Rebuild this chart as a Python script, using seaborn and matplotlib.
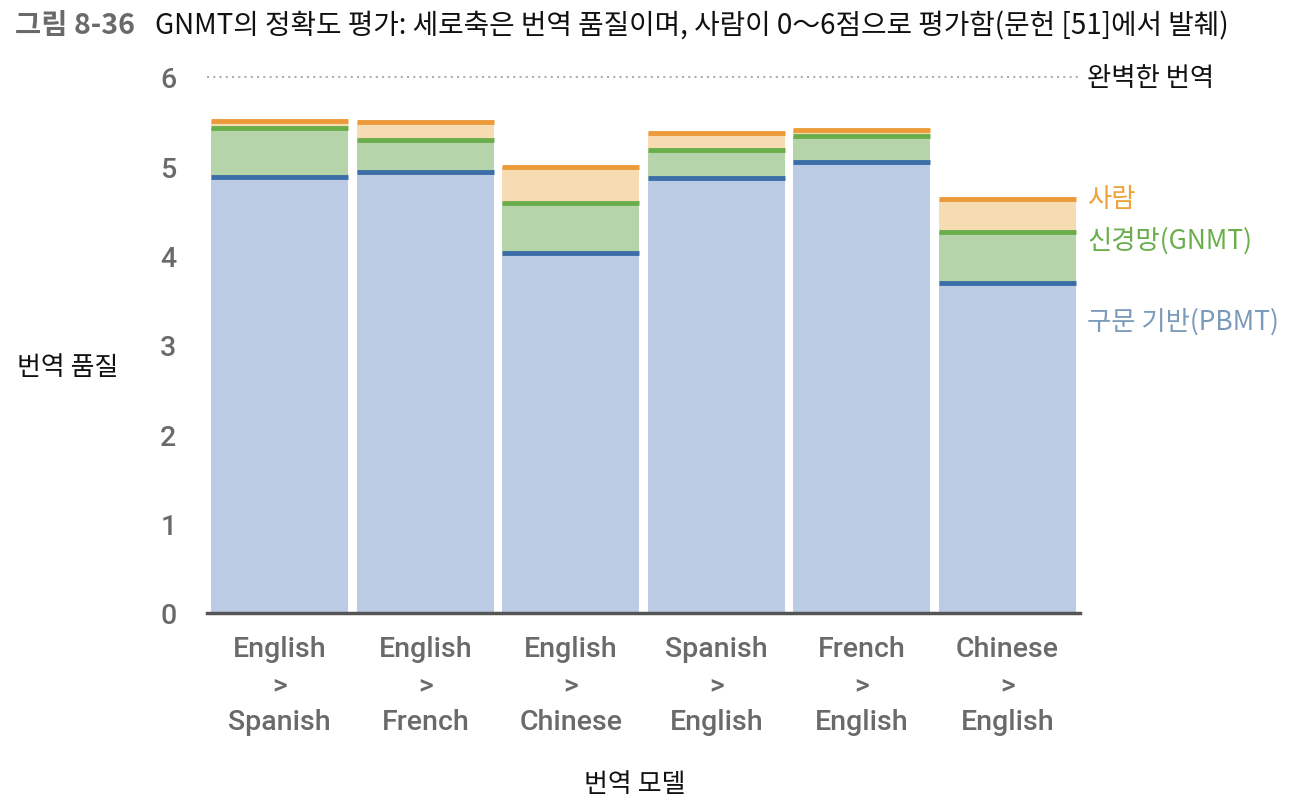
import matplotlib
matplotlib.use("Agg")
import matplotlib.pyplot as plt
import seaborn as sns
import pandas as pd
import numpy as np

# ---- data ----
pairs = ["English\n>\nSpanish", "English\n>\nFrench", "English\n>\nChinese",
         "Spanish\n>\nEnglish", "French\n>\nEnglish", "Chinese\n>\nEnglish"]
pbmt = [4.885, 4.932, 4.035, 4.872, 5.046, 3.694]
gnmt = [5.428, 5.295, 4.594, 5.187, 5.343, 4.263]
human = [5.504, 5.496, 4.987, 5.372, 5.404, 4.636]
yticks = [0, 1, 2, 3, 4, 5, 6]
perfect = 6

sns.set_theme(style="white")
plt.rcParams['font.family'] = ['Noto Sans CJK KR', 'DejaVu Sans']

df = pd.DataFrame({"pair": pairs, "pbmt": pbmt, "gnmt": gnmt, "human": human})

fig = plt.figure(figsize=(13, 8.12), dpi=100)
ax = fig.add_axes([207/1300, (812-614)/812, 873/1300, (614-78)/812])

W = 0.94
fills = {"human": "#f6dbb3", "gnmt": "#b5d4a9", "pbmt": "#bccbe4"}
lines = {"human": "#ec9a3a", "gnmt": "#6aae4c", "pbmt": "#3b6ea6"}
for key in ["human", "gnmt", "pbmt"]:
    sns.barplot(data=df, x="pair", y=key, color=fills[key], saturation=1,
                width=W, edgecolor="none", linewidth=0, ax=ax)
xs = np.arange(len(pairs))
for key in ["human", "gnmt", "pbmt"]:
    ax.hlines(df[key], xs - W/2, xs + W/2, color=lines[key], lw=3.5, zorder=5)

ax.set_xlim(-0.5, len(pairs) - 0.5)
ax.set_ylim(0, 6)
ax.axhline(perfect, color="#b0b0b0", ls=(0, (1, 2)), lw=1.5, zorder=1, clip_on=False)

for s in ["top", "right", "left"]:
    ax.spines[s].set_visible(False)
ax.spines["bottom"].set_color("#555555")
ax.spines["bottom"].set_linewidth(2.5)
ax.spines["bottom"].set_zorder(6)

ax.set_yticks(yticks)
ax.set_yticklabels([str(t) for t in yticks], family="Roboto", fontsize=20.5,
                   color="#6a6a6a", fontweight="medium")
ax.tick_params(axis="y", length=0, pad=22)
ax.set_xticks(xs)
ax.set_xticklabels(pairs, family="Roboto", fontsize=20.5, color="#6a6a6a",
                   linespacing=1.45, fontweight="medium")
ax.tick_params(axis="x", length=0, pad=16)
ax.set_xlabel("")
ax.set_ylabel("")

# right-side labels
tx = 1.008
fs = 19
ax.text(tx, perfect, "완벽한 번역", transform=ax.get_yaxis_transform(), fontsize=fs,
        color="#111111", va="center", ha="left")
ax.text(tx, 4.64, "사람", transform=ax.get_yaxis_transform(), fontsize=fs,
        color="#eea23a", va="center", ha="left")
ax.text(tx, 4.18, "신경망(GNMT)", transform=ax.get_yaxis_transform(), fontsize=fs,
        color="#6aae4c", va="center", ha="left")
ax.text(tx, 3.27, "구문 기반(PBMT)", transform=ax.get_yaxis_transform(), fontsize=fs,
        color="#7c9aba", va="center", ha="left")

# titles and axis labels
fig.text(15/1300, 1 - 26/812, "그림 8-36", fontsize=20.5, fontweight="bold",
         color="#6a6a6a", va="center", ha="left")
fig.text(155/1300, 1 - 26/812,
         "GNMT의 정확도 평가: 세로축은 번역 품질이며, 사람이 0～6점으로 평가함(문헌 [51]에서 발췌)",
         fontsize=20, color="#111111", va="center", ha="left")
fig.text(68/1300, 1 - 368/812, "번역 품질", fontsize=18.7, color="#111111",
         va="center", ha="center")
fig.text(635/1300, 1 - 785/812, "번역 모델", fontsize=18.7, color="#111111",
         va="center", ha="center")

fig.savefig("out.png", dpi=100, facecolor="white")
